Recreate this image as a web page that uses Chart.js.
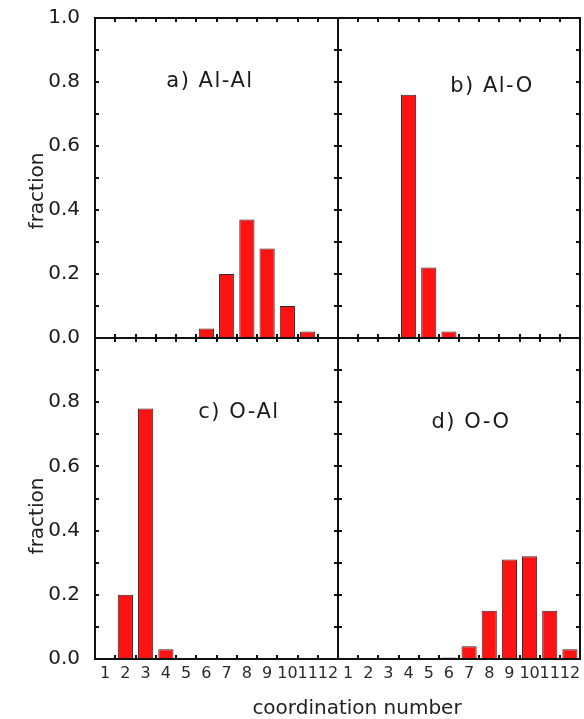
<!DOCTYPE html>
<html>
<head>
<meta charset="utf-8">
<script src="https://cdn.jsdelivr.net/npm/chart.js@4.4.1/dist/chart.umd.min.js"></script>
<style>
  html, body { margin: 0; padding: 0; background: #fff; }
  #wrap { position: relative; width: 584px; height: 719px; overflow: hidden; background: #fff; }
  .panel { position: absolute; }
  .txt { position: absolute; font-family: 'DejaVu Sans', sans-serif; color: #222; white-space: nowrap; line-height: 1; }
</style>
</head>
<body>
<div id="wrap">
  <div class="panel" style="left:0;top:-12px;width:360px;height:380px"><canvas id="chartA"></canvas></div>
  <div class="panel" style="left:330px;top:-12px;width:274px;height:380px"><canvas id="chartB"></canvas></div>
  <div class="panel" style="left:0;top:308px;width:360px;height:411px"><canvas id="chartC"></canvas></div>
  <div class="panel" style="left:330px;top:308px;width:274px;height:411px"><canvas id="chartD"></canvas></div>
  <div class="txt" style="left:36px;top:191px;font-size:20px;transform:translate(-50%,-50%) rotate(-90deg)">fraction</div>
  <div class="txt" style="left:36px;top:516px;font-size:20px;transform:translate(-50%,-50%) rotate(-90deg)">fraction</div>
  <div class="txt" style="left:357px;top:707px;font-size:20px;transform:translate(-50%,-50%)">coordination number</div>
</div>
<script>
// coordination numbers 1..12
const categories = ['1', '2', '3', '4', '5', '6', '7', '8', '9', '10', '11', '12'];

// fraction of atoms with each coordination number
const alAl = [0, 0, 0, 0, 0, 0.03, 0.20, 0.37, 0.28, 0.10, 0.02, 0];
const alO  = [0, 0, 0, 0.76, 0.22, 0.02, 0, 0, 0, 0, 0, 0];
const oAl  = [0, 0.20, 0.78, 0.03, 0, 0, 0, 0, 0, 0, 0, 0];
const oO   = [0, 0, 0, 0, 0, 0.005, 0.04, 0.15, 0.31, 0.32, 0.15, 0.03];

const panelLabels = ['a) Al-Al', 'b) Al-O', 'c) O-Al', 'd) O-O'];
const yTicks = [0, 0.2, 0.4, 0.6, 0.8, 1.0];

Chart.defaults.font.family = "'DejaVu Sans', sans-serif";
Chart.defaults.color = '#222';

// box around the plot with small inward ticks on every side
const framePlugin = {
    id: 'frame',
    afterDraw(chart) {
        const { ctx, chartArea: a, scales: { x, y } } = chart;
        ctx.save();
        ctx.strokeStyle = '#111';
        ctx.lineWidth = 2;
        ctx.strokeRect(a.left, a.top, a.right - a.left, a.bottom - a.top);
        ctx.beginPath();
        for (let i = 0; i <= 10; i++) {
            const py = Math.round(y.getPixelForValue(i / 10));
            ctx.moveTo(a.left, py); ctx.lineTo(a.left + 4, py);
            ctx.moveTo(a.right - 4, py); ctx.lineTo(a.right, py);
        }
        const step = x.getPixelForValue(1) - x.getPixelForValue(0);
        for (let i = 0; i < categories.length; i++) {
            const px = Math.round(x.getPixelForValue(i) + step / 2);
            ctx.moveTo(px, a.top); ctx.lineTo(px, a.top + 4);
            ctx.moveTo(px, a.bottom - 4); ctx.lineTo(px, a.bottom);
        }
        ctx.stroke();
        ctx.restore();
    }
};

// panel caption like "a) Al-Al"
const captionPlugin = {
    id: 'caption',
    afterDraw(chart, args, opts) {
        const ctx = chart.ctx;
        ctx.save();
        ctx.font = "21px 'DejaVu Sans', sans-serif";
        ctx.fillStyle = '#1a1a1a';
        ctx.textAlign = 'center';
        ctx.textBaseline = 'middle';
        if ('letterSpacing' in ctx) ctx.letterSpacing = '1.5px';
        ctx.fillText(opts.text, opts.x, opts.y);
        ctx.restore();
    }
};

function makePanel(id, values, caption, o) {
    const ctx = document.getElementById(id).getContext('2d');
    return new Chart(ctx, {
        type: 'bar',
        data: {
            labels: categories,
            datasets: [{
                data: values,
                backgroundColor: '#ff1212',
                borderColor: '#2a2a2a',
                borderWidth: 1,
                barPercentage: 0.75,
                categoryPercentage: 1.0
            }]
        },
        options: {
            responsive: true,
            maintainAspectRatio: false,
            animation: false,
            layout: { padding: { left: 0, right: o.right, top: 30, bottom: 0 } },
            plugins: {
                legend: { display: false },
                tooltip: { enabled: false },
                caption: { text: caption, x: o.cx, y: o.cy }
            },
            scales: {
                x: {
                    offset: true,
                    grid: { display: false },
                    border: { display: false },
                    ticks: {
                        display: o.bottomLabels,
                        autoSkip: false,
                        maxRotation: 0,
                        minRotation: 0,
                        padding: -3,
                        font: { size: 16 },
                        color: '#2a2a2a'
                    },
                    afterFit: s => { s.height = o.xh; }
                },
                y: {
                    min: 0,
                    max: 1,
                    grid: { display: false },
                    border: { display: false },
                    afterBuildTicks: s => { s.ticks = yTicks.filter(v => o.keepTop || v < 1).map(v => ({ value: v })); },
                    ticks: {
                        display: o.leftLabels,
                        padding: 7,
                        font: { size: 20 },
                        color: '#1a1a1a',
                        callback: v => Number(v).toFixed(1)
                    },
                    afterFit: s => { s.width = o.yw; }
                }
            }
        },
        plugins: [framePlugin, captionPlugin]
    });
}

makePanel('chartA', alAl, panelLabels[0], { right: 22, xh: 30, yw: 95, leftLabels: true, bottomLabels: false, keepTop: true, cx: 210, cy: 94 });
makePanel('chartB', alO, panelLabels[1], { right: 24, xh: 30, yw: 8, leftLabels: false, bottomLabels: false, keepTop: true, cx: 162, cy: 99 });
makePanel('chartC', oAl, panelLabels[2], { right: 22, xh: 60, yw: 95, leftLabels: true, bottomLabels: true, keepTop: false, cx: 239, cy: 105 });
makePanel('chartD', oO, panelLabels[3], { right: 24, xh: 60, yw: 8, leftLabels: false, bottomLabels: true, keepTop: false, cx: 141, cy: 115 });
</script>
</body>
</html>
